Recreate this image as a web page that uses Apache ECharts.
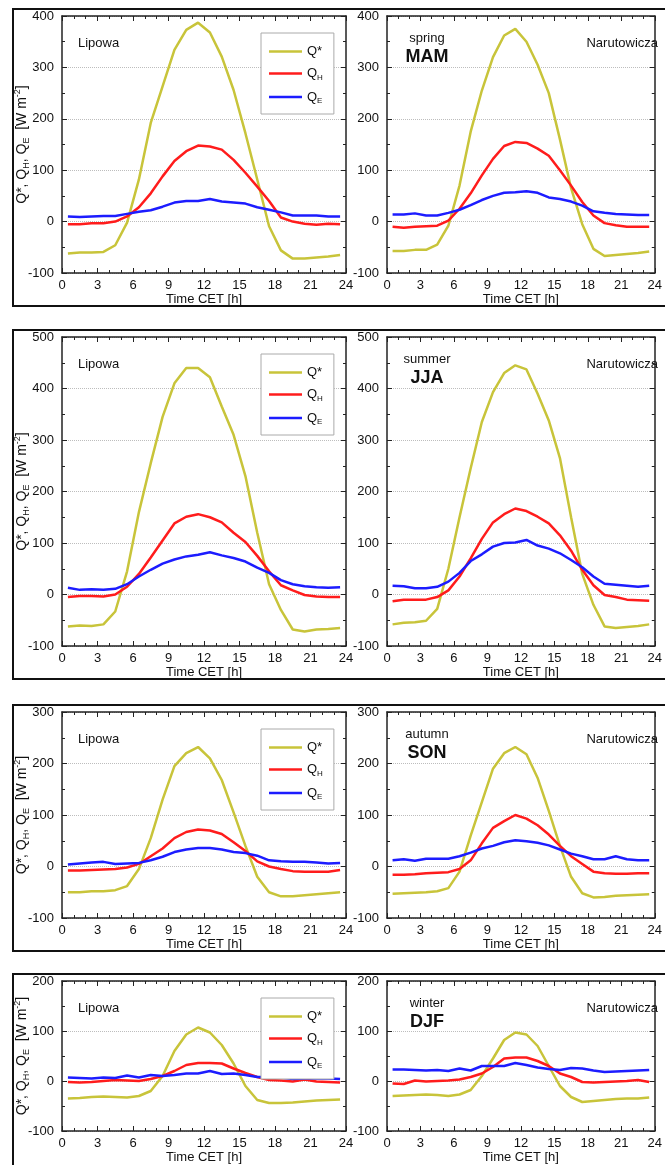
<!DOCTYPE html>
<html>
<head>
<meta charset="utf-8">
<script src="https://cdn.jsdelivr.net/npm/echarts@6/dist/echarts.min.js"></script>
<style>
  html, body { margin: 0; padding: 0; background: #fff; }
  #chart { width: 665px; height: 1165px; }
</style>
</head>
<body>
<div id="chart"></div>
<script>
// half-hour bins, Time CET [h]
const hours = [0.5, 1.5, 2.5, 3.5, 4.5, 5.5, 6.5, 7.5, 8.5, 9.5, 10.5, 11.5,
  12.5, 13.5, 14.5, 15.5, 16.5, 17.5, 18.5, 19.5, 20.5, 21.5, 22.5, 23.5];

// spring MAM
const mamLipQs = [-62, -60, -60, -59, -46, -2, 82, 192, 263, 334, 373, 387, 368, 321, 256, 172, 82, -9, -56, -72, -72, -70, -68, -65];
const mamLipQh = [-5, -5, -3, -3, 0, 10, 28, 55, 88, 118, 137, 148, 146, 140, 120, 95, 68, 40, 8, 0, -4, -6, -4, -5];
const mamLipQe = [10, 9, 10, 11, 11, 15, 19, 22, 29, 37, 40, 40, 44, 39, 37, 35, 28, 23, 18, 12, 12, 12, 10, 10];
const mamNarQs = [-57, -57, -55, -55, -45, -8, 70, 175, 255, 320, 362, 375, 350, 305, 250, 160, 65, -5, -53, -67, -65, -63, -61, -58];
const mamNarQh = [-10, -12, -10, -9, -8, 2, 25, 55, 90, 122, 147, 155, 153, 142, 128, 100, 70, 38, 12, -3, -7, -10, -10, -10];
const mamNarQe = [14, 14, 16, 12, 12, 17, 23, 32, 42, 50, 56, 57, 59, 56, 47, 44, 39, 31, 20, 17, 15, 14, 13, 13];

// summer JJA
const jjaLipQs = [-62, -60, -61, -58, -33, 45, 160, 255, 345, 410, 440, 440, 422, 365, 310, 230, 120, 20, -30, -68, -72, -68, -67, -65];
const jjaLipQh = [-5, -3, -3, -4, 0, 15, 40, 72, 105, 138, 151, 156, 150, 140, 120, 102, 75, 45, 18, 8, -1, -4, -5, -5];
const jjaLipQe = [13, 9, 10, 9, 11, 20, 35, 48, 60, 68, 74, 77, 82, 76, 71, 64, 52, 42, 28, 20, 16, 14, 13, 14];
const jjaNarQs = [-58, -55, -54, -51, -28, 50, 150, 245, 335, 393, 430, 445, 437, 390, 338, 265, 150, 40, -20, -62, -65, -63, -61, -58];
const jjaNarQh = [-13, -10, -10, -10, -5, 8, 35, 70, 108, 140, 156, 167, 162, 151, 138, 115, 85, 48, 18, -1, -5, -10, -11, -12];
const jjaNarQe = [17, 16, 12, 12, 15, 25, 42, 65, 78, 93, 100, 101, 106, 95, 89, 80, 67, 53, 35, 21, 19, 17, 15, 17];

// autumn SON
const sonLipQs = [-50, -50, -48, -48, -46, -38, -5, 55, 130, 195, 220, 232, 210, 168, 105, 40, -20, -50, -58, -58, -56, -54, -52, -50];
const sonLipQh = [-8, -8, -7, -6, -5, -2, 5, 20, 35, 55, 67, 72, 70, 63, 47, 30, 10, 0, -5, -9, -10, -10, -10, -7];
const sonLipQe = [4, 6, 8, 9, 5, 6, 7, 12, 19, 28, 33, 36, 36, 33, 28, 26, 21, 12, 10, 9, 9, 8, 6, 7];
const sonNarQs = [-53, -52, -51, -50, -48, -42, -10, 60, 125, 190, 220, 232, 218, 172, 108, 40, -20, -52, -60, -59, -57, -56, -55, -54];
const sonNarQh = [-16, -16, -15, -13, -12, -11, -5, 12, 45, 75, 88, 100, 93, 80, 62, 40, 20, 5, -10, -13, -14, -14, -13, -13];
const sonNarQe = [12, 14, 11, 15, 15, 15, 20, 27, 35, 40, 47, 51, 49, 46, 41, 33, 25, 20, 14, 14, 20, 14, 12, 12];

// winter DJF
const djfLipQs = [-35, -34, -32, -31, -32, -33, -30, -20, 10, 60, 93, 107, 97, 72, 35, -10, -38, -44, -44, -43, -41, -39, -38, -37];
const djfLipQh = [-2, -3, -2, 0, 2, 1, 0, 4, 10, 20, 32, 36, 36, 35, 25, 16, 8, 2, 1, -1, 3, -1, -2, -3];
const djfLipQe = [7, 6, 5, 7, 6, 11, 7, 12, 10, 12, 15, 15, 20, 14, 15, 12, 8, 8, 7, 4, 5, 5, 5, 4];
const djfNarQs = [-30, -29, -28, -27, -28, -30, -27, -18, 10, 45, 82, 97, 93, 70, 30, -10, -32, -42, -40, -38, -36, -35, -35, -33];
const djfNarQh = [-5, -6, 1, -1, 0, 1, 3, 8, 15, 28, 45, 47, 47, 40, 30, 15, 8, -2, -3, -2, -1, 0, 2, -2];
const djfNarQe = [23, 23, 22, 21, 22, 20, 25, 21, 30, 30, 30, 36, 32, 27, 24, 22, 26, 25, 21, 18, 19, 20, 21, 22];

const seasons = ['spring', 'summer', 'autumn', 'winter'];
const seasonCodes = ['MAM', 'JJA', 'SON', 'DJF'];
const stations = ['Lipowa', 'Narutowicza'];
const yMax = [400, 500, 300, 200];
const seriesNames = ['Q*', 'QH', 'QE'];
const seriesColors = ['#c8c43a', '#ff1c1c', '#1c1cff'];

// [row][station] -> [Q*, QH, QE]
const panelData = [
  [[mamLipQs, mamLipQh, mamLipQe], [mamNarQs, mamNarQh, mamNarQe]],
  [[jjaLipQs, jjaLipQh, jjaLipQe], [jjaNarQs, jjaNarQh, jjaNarQe]],
  [[sonLipQs, sonLipQh, sonLipQe], [sonNarQs, sonNarQh, sonNarQe]],
  [[djfLipQs, djfLipQh, djfLipQe], [djfNarQs, djfNarQh, djfNarQe]]
];

// layout (px)
const rowTops = [16, 337, 712, 981];
const rowHeights = [257, 309, 206, 156];
const boxTops = [9, 330, 705, 974];
const boxBottoms = [306, 679, 951, 1220];
const colLefts = [62, 387];
const plotWidth = 284;

const chart = echarts.init(document.getElementById('chart'), null, { renderer: 'canvas' });

const frameLine = { show: true, onZero: false, lineStyle: { color: '#222', width: 1.5 } };
const tickIn = { show: true, inside: true, length: 5, lineStyle: { color: '#222', width: 1 } };
const minorIn = (n) => ({ show: true, splitNumber: n, length: 3, lineStyle: { color: '#222', width: 1 } });
const labelStyle = { color: '#111', fontSize: 13 };

const grids = [], xAxes = [], yAxes = [], series = [], legends = [], graphics = [];

// subscripts / superscript for Q_H, Q_E, m^-2
const legendRich = {
  m: { fontSize: 13, lineHeight: 16, color: '#111' },
  s: { fontSize: 8, lineHeight: 8, verticalAlign: 'bottom', color: '#111' }
};
const nameRich = {
  m: { fontSize: 14, lineHeight: 18, color: '#111' },
  s: { fontSize: 9, lineHeight: 9, verticalAlign: 'bottom', color: '#111' },
  p: { fontSize: 9, lineHeight: 9, verticalAlign: 'top', color: '#111' }
};

rowTops.forEach((top, r) => {
  stations.forEach((st, c) => {
    const g = grids.length;
    grids.push({ left: colLefts[c], top: top, width: plotWidth, height: rowHeights[r], show: false });

    // bottom axis + mirrored top axis
    xAxes.push({
      type: 'value', gridIndex: g, position: 'bottom', min: 0, max: 24, interval: 3,
      axisLine: frameLine, axisTick: tickIn, minorTick: minorIn(3),
      axisLabel: Object.assign({ margin: 6 }, labelStyle),
      splitLine: { show: false },
      name: 'Time CET [h]', nameLocation: 'middle', nameGap: 20, nameMoveOverlap: false,
      nameTextStyle: { color: '#111', fontSize: 13 }
    });
    xAxes.push({
      type: 'value', gridIndex: g, position: 'top', min: 0, max: 24, interval: 3,
      axisLine: frameLine, axisTick: tickIn, minorTick: minorIn(3),
      axisLabel: { show: false }, splitLine: { show: false }
    });

    // left axis + mirrored right axis
    const yLeft = {
      type: 'value', gridIndex: g, position: 'left', min: -100, max: yMax[r], interval: 100,
      axisLine: frameLine, axisTick: tickIn, minorTick: minorIn(2),
      axisLabel: Object.assign({ margin: 8 }, labelStyle),
      splitLine: { show: true, lineStyle: { color: '#bdbdbd', width: 1, type: 'dotted' } }
    };
    if (c === 0) {
      yLeft.name = '{m|Q*, Q}{s|H}{m|, Q}{s|E}{m|  [W m}{p|-2}{m|]}';
      yLeft.nameLocation = 'middle';
      yLeft.nameRotate = 90;
      yLeft.nameGap = 31;
      yLeft.nameMoveOverlap = false;
      yLeft.nameTextStyle = { rich: nameRich };
    }
    yAxes.push(yLeft);
    yAxes.push({
      type: 'value', gridIndex: g, position: 'right', min: -100, max: yMax[r], interval: 100,
      axisLine: frameLine, axisTick: tickIn, minorTick: minorIn(2),
      axisLabel: { show: false }, splitLine: { show: false }
    });

    panelData[r][c].forEach((vals, k) => {
      series.push({
        name: seriesNames[k], type: 'line', xAxisIndex: 2 * g, yAxisIndex: 2 * g,
        data: hours.map((h, i) => [h, vals[i]]),
        symbol: 'none', silent: true,
        lineStyle: { color: seriesColors[k], width: 2.5 },
        itemStyle: { color: seriesColors[k] }
      });
    });

    // station label
    graphics.push({
      type: 'text', silent: true,
      left: c === 0 ? colLefts[c] + 16 : null,
      right: c === 1 ? 665 - 658 : null,
      top: top + 21,
      style: { text: st, fontSize: 13, fill: '#111', fontFamily: 'Liberation Sans' }
    });
  });

  // season label in the right panel
  graphics.push({
    type: 'text', silent: true, x: 427, y: top + 22,
    style: { text: seasons[r], fontSize: 13, fill: '#111', align: 'center', verticalAlign: 'middle', fontFamily: 'Liberation Sans' }
  });
  graphics.push({
    type: 'text', silent: true, x: 427, y: top + 41,
    style: { text: seasonCodes[r], fontSize: 18, fontWeight: 'bold', fill: '#111', align: 'center', verticalAlign: 'middle', fontFamily: 'Liberation Sans' }
  });

  // frame round each row
  graphics.push({
    type: 'rect', silent: true, z: -1,
    shape: { x: 13, y: boxTops[r], width: 700, height: boxBottoms[r] - boxTops[r] },
    style: { fill: null, stroke: '#111', lineWidth: 2 }
  });

  legends.push({
    left: 261, top: top + 17, orient: 'vertical',
    data: seriesNames, selectedMode: false,
    icon: 'rect', itemWidth: 33, itemHeight: 2.5, itemGap: 9,
    padding: [12, 11, 9, 8],
    borderColor: '#aaa', borderWidth: 1, backgroundColor: '#fff',
    formatter: (name) => name === 'Q*' ? '{m|Q*}' : '{m|Q}{s|' + name.slice(1) + '}',
    textStyle: { rich: legendRich }
  });
});

chart.setOption({
  animation: false,
  textStyle: { fontFamily: 'Liberation Sans' },
  grid: grids,
  xAxis: xAxes,
  yAxis: yAxes,
  legend: legends,
  series: series,
  graphic: graphics
});
</script>
</body>
</html>
